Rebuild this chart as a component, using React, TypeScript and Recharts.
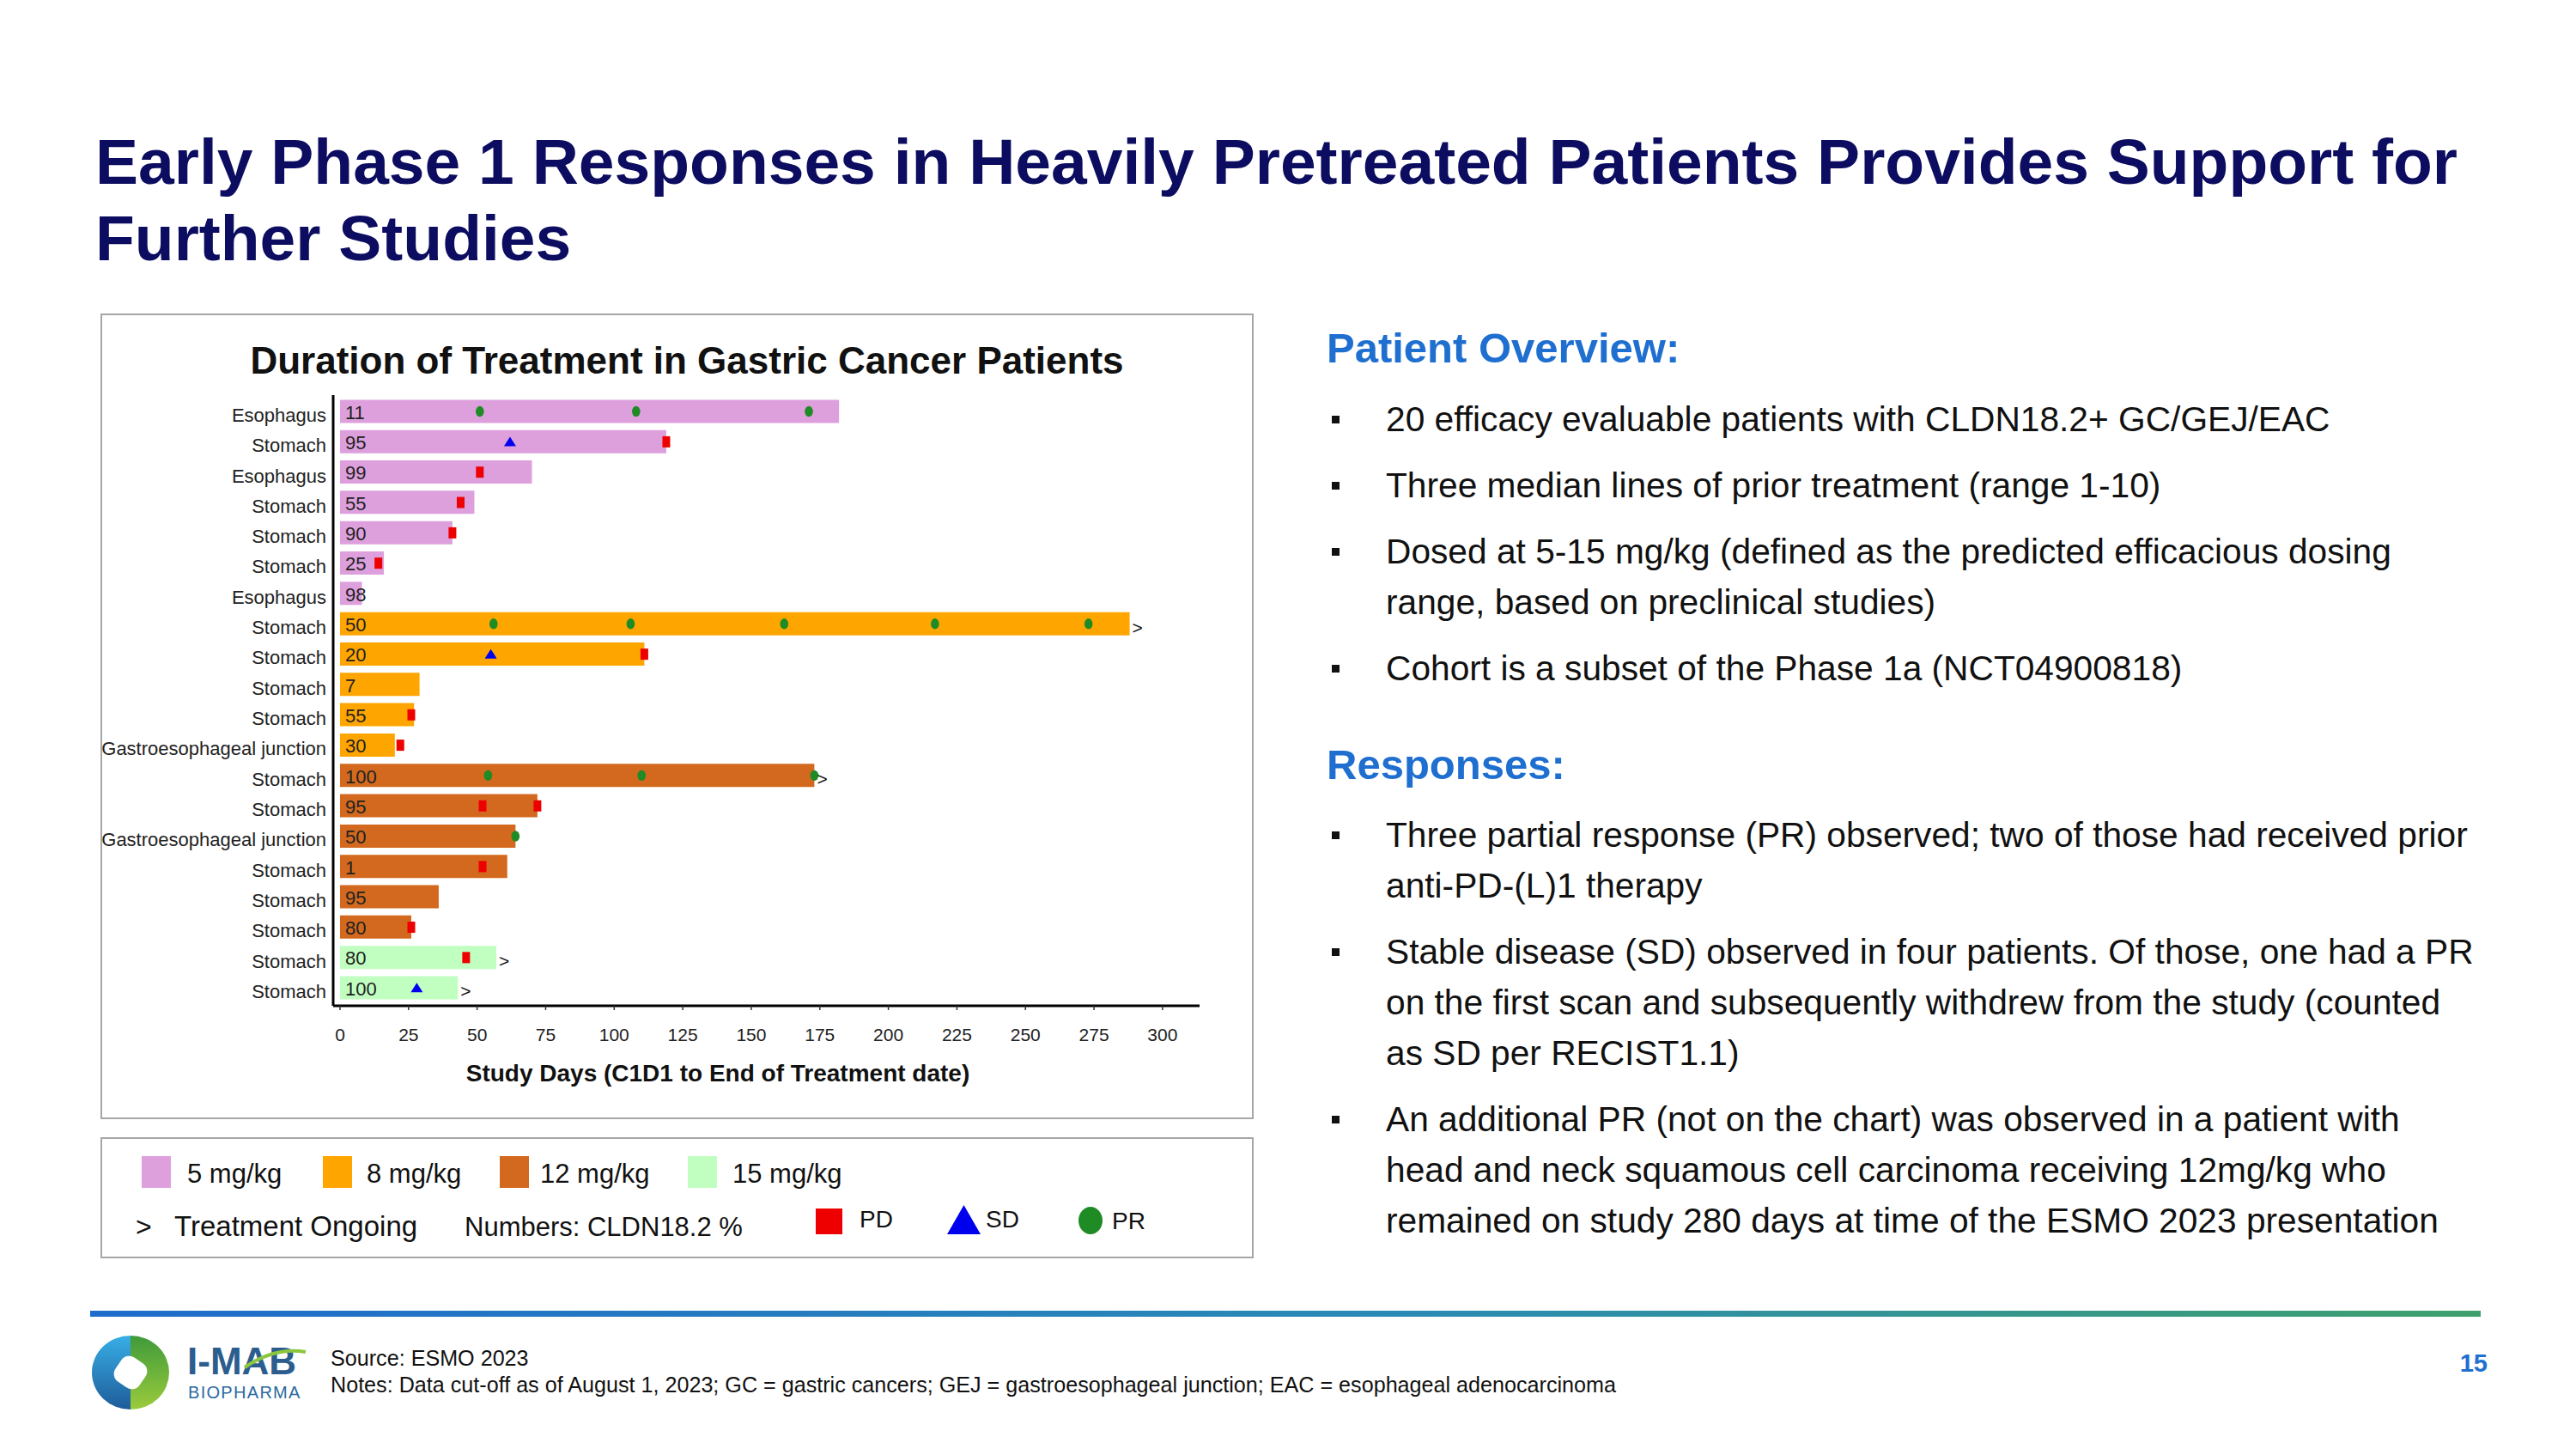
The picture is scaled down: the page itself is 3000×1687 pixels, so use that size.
import React from 'react';
import { ComposedChart, Bar, Cell, XAxis, YAxis, Scatter, LabelList } from 'recharts';

// ---------- data ----------
const sites = [
  'Esophagus', 'Stomach', 'Esophagus', 'Stomach', 'Stomach', 'Stomach', 'Esophagus',
  'Stomach', 'Stomach', 'Stomach', 'Stomach', 'Gastroesophageal junction',
  'Stomach', 'Stomach', 'Gastroesophageal junction', 'Stomach', 'Stomach', 'Stomach',
  'Stomach', 'Stomach',
];
const cldn = [11, 95, 99, 55, 90, 25, 98, 50, 20, 7, 55, 30, 100, 95, 50, 1, 95, 80, 80, 100];
const doseGroup = [0, 0, 0, 0, 0, 0, 0, 1, 1, 1, 1, 1, 2, 2, 2, 2, 2, 2, 3, 3];
const days = [182, 119, 70, 49, 41, 16, 8, 288, 111, 29, 27, 20, 173, 72, 64, 61, 36, 26, 57, 43];
const ongoing = [false, false, false, false, false, false, false, true, false, false, false, false, true, false, false, false, false, false, true, true];
const doseLabels = ['5 mg/kg', '8 mg/kg', '12 mg/kg', '15 mg/kg'];
const pdEvents = [[1, 119], [2, 51], [3, 44], [4, 41], [5, 14], [8, 111], [10, 26], [11, 22], [13, 52], [13, 72], [15, 52], [17, 26], [18, 46]];
const sdEvents = [[1, 62], [8, 55], [19, 28]];
const prEvents = [[0, 51], [0, 108], [0, 171], [7, 56], [7, 106], [7, 162], [7, 217], [7, 273], [12, 54], [12, 110], [12, 173], [14, 64]];
const xTicks = [0, 25, 50, 75, 100, 125, 150, 175, 200, 225, 250, 275, 300];

// ---------- styles ----------
const doseColors = ['#DDA0DD', '#FFA500', '#D2691E', '#C1FFC1'];
const PD_COLOR = '#EE0000';
const SD_COLOR = '#0000EE';
const PR_COLOR = '#1E8B24';
const FONT = '"Liberation Sans", Arial, Helvetica, sans-serif';
const NAVY = '#0C0C60';
const BLUE = '#1F6FD0';

const rows = sites.map((site, i) => ({
  row: i,
  site,
  days: days[i],
  cldn: cldn[i],
  dose: doseGroup[i],
  more: ongoing[i] ? '>' : '',
}));
const rowTicks = rows.map((r) => r.row);
const toPts = (ev: number[][]) => ev.map(([row, day]) => ({ row, day }));
const pdPts = toPts(pdEvents);
const sdPts = toPts(sdEvents);
const prPts = toPts(prEvents);

// ---------- helpers ----------
const T = ({ x, base, fs, w = 400, c = '#111', a = 'start', ls = 0, lh, children }: any) => {
  const L = lh ?? fs;
  const style: any = {
    position: 'absolute',
    top: base - ((L - 1.117 * fs) / 2 + 0.905 * fs),
    fontSize: fs,
    lineHeight: L + 'px',
    height: L,
    fontWeight: w,
    color: c,
    whiteSpace: 'nowrap',
    letterSpacing: ls,
  };
  if (a === 'start') style.left = x;
  else if (a === 'middle') {
    style.left = x - 1500;
    style.width = 3000;
    style.textAlign = 'center';
  } else style.right = 3000 - x;
  return <div style={style}>{children}</div>;
};

const XTick = (p: any) => (
  <text x={p.x} y={p.y} dy="0.71em" textAnchor="middle" fontSize={21} fill="#222" fontFamily={FONT}>
    {p.payload.value}
  </text>
);
const YTick = (p: any) => (
  <text x={p.x} y={p.y + 4} dy="0.355em" textAnchor="end" fontSize={22} fill="#222" fontFamily={FONT}>
    {sites[p.payload.value]}
  </text>
);
const vbOf = (p: any) => (p.viewBox && p.viewBox.width !== undefined ? p.viewBox : p);
const CldnLabel = (p: any) => {
  const v = vbOf(p);
  return (
    <text x={v.x + 6} y={v.y + v.height / 2 + 1} dy="0.355em" fontSize={22} fill="#222" fontFamily={FONT}>
      {p.value}
    </text>
  );
};
const MoreLabel = (p: any) => {
  if (!p.value) return null;
  const v = vbOf(p);
  return (
    <text x={v.x + v.width + 3} y={v.y + v.height / 2 + 4} dy="0.355em" fontSize={21} fill="#111" fontFamily={FONT}>
      {p.value}
    </text>
  );
};
const PdShape = (p: any) => <rect x={p.cx - 4.5} y={p.cy - 6.5} width={9} height={13} fill={PD_COLOR} />;
const SdShape = (p: any) => (
  <polygon points={`${p.cx},${p.cy - 6} ${p.cx - 7},${p.cy + 5} ${p.cx + 7},${p.cy + 5}`} fill={SD_COLOR} />
);
const PrShape = (p: any) => <ellipse cx={p.cx} cy={p.cy} rx={4.8} ry={6.2} fill={PR_COLOR} />;

const bullets1 = [
  ['20 efficacy evaluable patients with CLDN18.2+ GC/GEJ/EAC'],
  ['Three median lines of prior treatment (range 1-10)'],
  ['Dosed at 5-15 mg/kg (defined as the predicted efficacious dosing', 'range, based on preclinical studies)'],
  ['Cohort is a subset of the Phase 1a (NCT04900818)'],
];
const bullets2 = [
  ['Three partial response (PR) observed; two of those had received prior', 'anti-PD-(L)1 therapy'],
  ['Stable disease (SD) observed in four patients. Of those, one had a PR', 'on the first scan and subsequently withdrew from the study (counted', 'as SD per RECIST1.1)'],
  ['An additional PR (not on the chart) was observed in a patient with', 'head and neck squamous cell carcinoma receiving 12mg/kg who', 'remained on study 280 days at time of the ESMO 2023 presentation'],
];

const BulletBlock = ({ items, firstCenter }: any) => {
  const out: any[] = [];
  let c = firstCenter;
  items.forEach((lines: string[], i: number) => {
    out.push(
      <div key={'b' + i} style={{ position: 'absolute', left: 1551, top: c - 4.5, width: 9, height: 9, background: '#111' }} />
    );
    lines.forEach((ln, j) => {
      out.push(
        <T key={'t' + i + '_' + j} x={1614} base={c + 14.5} fs={40.7}>
          {ln}
        </T>
      );
      c += 59;
    });
    c += 18;
  });
  return <>{out}</>;
};

export default function App() {
  const swX = [165, 376, 582, 801];
  const lbX = [218, 427, 629, 853];
  return (
    <div
      style={{
        position: 'absolute',
        left: 0,
        top: 0,
        width: 3000,
        height: 1687,
        background: '#fff',
        overflow: 'hidden',
        fontFamily: FONT,
      }}
    >
      {/* Title */}
      <T x={111} base={214} fs={75} w={700} c={NAVY}>
        Early Phase 1 Responses in Heavily Pretreated Patients Provides Support for
      </T>
      <T x={111} base={303} fs={75} w={700} c={NAVY}>
        Further Studies
      </T>

      {/* Chart box */}
      <div
        style={{
          position: 'absolute',
          left: 117,
          top: 365,
          width: 1343,
          height: 938,
          border: '2px solid #A6A6A6',
          boxSizing: 'border-box',
        }}
      />
      <T x={800} base={435} fs={44} w={700} c="#111" a="middle">
        Duration of Treatment in Gastric Cancer Patients
      </T>
      <div style={{ position: 'absolute', left: 117, top: 365 }}>
        <ComposedChart
          width={1343}
          height={938}
          data={rows}
          layout="vertical"
          margin={{ top: 95, right: 63, bottom: 0, left: 0 }}
        >
          <XAxis
            type="number"
            domain={[-2.5, 313.5]}
            ticks={xTicks}
            interval={0}
            allowDataOverflow
            height={132}
            axisLine={{ stroke: '#000', strokeWidth: 3 }}
            tickLine={{ stroke: '#333', strokeWidth: 1.5 }}
            tickSize={5}
            tickMargin={21}
            tick={(p: any) => <XTick {...p} />}
          />
          <YAxis
            type="number"
            dataKey="row"
            domain={[-0.54, 19.59]}
            ticks={rowTicks}
            interval={0}
            allowDataOverflow
            width={271}
            axisLine={{ stroke: '#000', strokeWidth: 3 }}
            tickLine={false}
            tickSize={0}
            tickMargin={8}
            tick={(p: any) => <YTick {...p} />}
          />
          <Bar dataKey="days" barSize={27} isAnimationActive={false}>
            {rows.map((r) => (
              <Cell key={r.row} fill={doseColors[r.dose]} />
            ))}
            <LabelList dataKey="cldn" content={CldnLabel} />
            <LabelList dataKey="more" content={MoreLabel} />
          </Bar>
          <Scatter data={pdPts} dataKey="day" shape={PdShape} isAnimationActive={false} />
          <Scatter data={sdPts} dataKey="day" shape={SdShape} isAnimationActive={false} />
          <Scatter data={prPts} dataKey="day" shape={PrShape} isAnimationActive={false} />
        </ComposedChart>
      </div>
      <T x={836} base={1260} fs={28} w={700} c="#111" a="middle">
        Study Days (C1D1 to End of Treatment date)
      </T>

      {/* Legend box */}
      <div
        style={{
          position: 'absolute',
          left: 117,
          top: 1324,
          width: 1343,
          height: 141,
          border: '2px solid #A6A6A6',
          boxSizing: 'border-box',
        }}
      />
      {doseLabels.map((lab, i) => (
        <React.Fragment key={lab}>
          <div style={{ position: 'absolute', left: swX[i], top: 1346, width: 34, height: 37, background: doseColors[i] }} />
          <T x={lbX[i]} base={1377} fs={31}>
            {lab}
          </T>
        </React.Fragment>
      ))}
      <T x={158} base={1439} fs={32}>
        &gt;
      </T>
      <T x={203} base={1439} fs={33}>
        Treatment Ongoing
      </T>
      <T x={541} base={1439} fs={31}>
        Numbers: CLDN18.2 %
      </T>
      <svg style={{ position: 'absolute', left: 0, top: 1390 }} width={1400} height={60}>
        <rect x={950} y={17} width={31} height={30} fill={PD_COLOR} />
        <polygon points="1122.5,13 1103,47 1142,47" fill={SD_COLOR} />
        <ellipse cx={1270} cy={31} rx={14} ry={16} fill={PR_COLOR} />
      </svg>
      <T x={1001} base={1430} fs={28}>
        PD
      </T>
      <T x={1148} base={1430} fs={28}>
        SD
      </T>
      <T x={1295} base={1432} fs={28}>
        PR
      </T>

      {/* Right text */}
      <T x={1545} base={422} fs={49} w={700} c={BLUE}>
        Patient Overview:
      </T>
      <BulletBlock items={bullets1} firstCenter={488} />
      <T x={1545} base={907} fs={49} w={700} c={BLUE}>
        Responses:
      </T>
      <BulletBlock items={bullets2} firstCenter={972} />

      {/* Footer */}
      <div
        style={{
          position: 'absolute',
          left: 105,
          top: 1526,
          width: 2784,
          height: 7,
          background: 'linear-gradient(to right, #1E6CCB, #2A8AB5 55%, #3DA06C)',
        }}
      />
      <svg style={{ position: 'absolute', left: 100, top: 1550 }} width={110} height={100}>
        <defs>
          <linearGradient id="lb" x1="0" y1="0" x2="0" y2="1">
            <stop offset="0" stopColor="#38AEE5" />
            <stop offset="1" stopColor="#1D5C9A" />
          </linearGradient>
          <linearGradient id="lg" x1="0" y1="0" x2="0" y2="1">
            <stop offset="0" stopColor="#3F9A3A" />
            <stop offset="1" stopColor="#9BCB3C" />
          </linearGradient>
        </defs>
        <path d="M52 5 A45 43 0 0 0 52 91 Z" fill="url(#lb)" />
        <path d="M52 5 A45 43 0 0 1 52 91 Z" fill="url(#lg)" />
        <rect x={35} y={31} width={34} height={34} rx={11} fill="#fff" transform="rotate(35 52 48)" />
      </svg>
      <T x={218} base={1600} fs={44} w={700} c="#2B5D8E" lh={32}>
        I-MAB
      </T>
      <svg style={{ position: 'absolute', left: 280, top: 1566 }} width={80} height={30}>
        <path d="M5 26 Q40 2 76 8" stroke="#8CC63F" strokeWidth={4} fill="none" />
      </svg>
      <T x={219} base={1628} fs={20} c="#2D6AA0" ls={1.3} lh={16}>
        BIOPHARMA
      </T>
      <T x={385} base={1590} fs={25.15} lh={26}>
        Source: ESMO 2023
      </T>
      <T x={385} base={1621} fs={25.15} lh={26}>
        Notes: Data cut-off as of August 1, 2023; GC = gastric cancers; GEJ = gastroesophageal junction; EAC = esophageal adenocarcinoma
      </T>
      <T x={2897} base={1598} fs={29} w={700} c={BLUE} a="end">
        15
      </T>
    </div>
  );
}
